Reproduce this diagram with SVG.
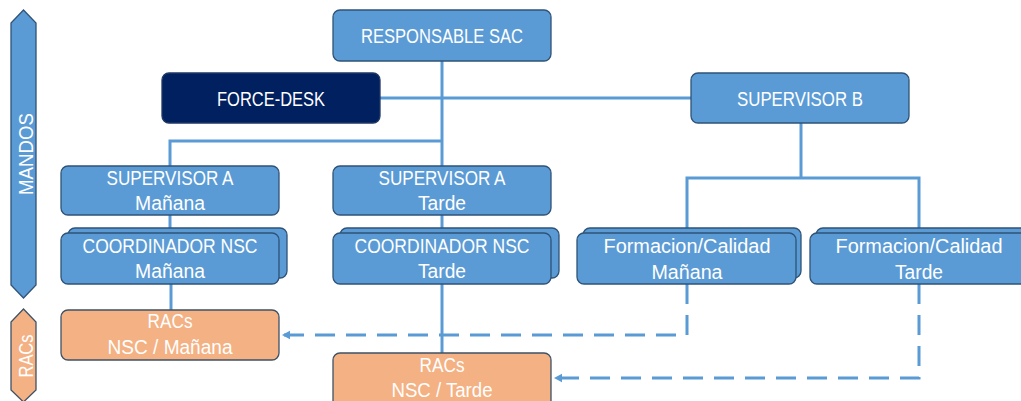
<svg xmlns="http://www.w3.org/2000/svg" width="1021" height="401" viewBox="0 0 1021 401">
<style>
.box{fill:#5B9BD5;stroke:#2F5377;stroke-width:1.3}
.dark{fill:#002060;stroke:#1F3763;stroke-width:1.3}
.rac{fill:#F4B183;stroke:#3E5266;stroke-width:1.3}
.t{font-family:"Liberation Sans",Arial,sans-serif;font-size:20px;fill:#FFFFFF;text-anchor:middle}
.ln{fill:none;stroke:#5B9BD5;stroke-width:3}
.dash{fill:none;stroke:#5B9BD5;stroke-width:3;stroke-dasharray:20 11}
</style>
<defs>
<marker id="ah" markerWidth="10" markerHeight="10" refX="8" refY="5" orient="auto" markerUnits="userSpaceOnUse">
<path d="M0,0.8 L8,5 L0,9.2 Z" fill="#5B9BD5"/>
</marker>
</defs>
<rect width="1021" height="401" fill="#FFFFFF"/>
<g id="connectors">
<path class="ln" d="M442 61 V166"/>
<path class="ln" d="M380 98 H691"/>
<path class="ln" d="M442 141 H170 V166"/>
<path class="ln" d="M170 215 V233"/>
<path class="ln" d="M171 284 V310"/>
<path class="ln" d="M442 215 V233"/>
<path class="ln" d="M442 284 V353"/>
<path class="ln" d="M801 123 V178"/>
<path class="ln" d="M687 233 V178 H919 V233"/>
<path class="dash" d="M687 284 V335 H282" marker-end="url(#ah)"/>
<path class="dash" d="M919 284 V378 H554" marker-end="url(#ah)"/>
</g>
<g id="mandos">
<polygon class="box" points="23.5,10 36,23 36,285 23.5,298 11,285 11,23"/>
<text class="t" font-size="21" textLength="82" lengthAdjust="spacingAndGlyphs" transform="translate(33,154) rotate(-90)">MANDOS</text>
</g>
<g id="racs-label">
<polygon class="rac" points="23.5,309 36,322 36,390 23.5,402 11,390 11,322"/>
<text class="t" font-size="21" textLength="43" lengthAdjust="spacingAndGlyphs" transform="translate(33,356) rotate(-90)">RACs</text>
</g>
<g id="responsable-sac">
<rect class="box" x="333" y="10" width="218" height="51" rx="7"/>
<text class="t" x="442" y="43" textLength="162" lengthAdjust="spacingAndGlyphs">RESPONSABLE SAC</text>
</g>
<g id="force-desk">
<rect class="dark" x="162" y="73" width="218" height="50" rx="7"/>
<text class="t" x="271" y="106" textLength="108" lengthAdjust="spacingAndGlyphs">FORCE-DESK</text>
</g>
<g id="supervisor-b">
<rect class="box" x="691" y="73" width="218" height="50" rx="7"/>
<text class="t" x="800" y="106" textLength="126" lengthAdjust="spacingAndGlyphs">SUPERVISOR B</text>
</g>
<g id="supervisor-a-manana">
<rect class="box" x="61" y="166" width="218" height="49" rx="7"/>
<text class="t" x="170" y="185" textLength="127" lengthAdjust="spacingAndGlyphs">SUPERVISOR A</text>
<text class="t" x="170" y="210" textLength="70" lengthAdjust="spacingAndGlyphs">Mañana</text>
</g>
<g id="supervisor-a-tarde">
<rect class="box" x="333" y="166" width="218" height="49" rx="7"/>
<text class="t" x="442" y="185" textLength="127" lengthAdjust="spacingAndGlyphs">SUPERVISOR A</text>
<text class="t" x="442" y="210" textLength="48" lengthAdjust="spacingAndGlyphs">Tarde</text>
</g>
<g id="coordinador-manana">
<rect class="box" x="68" y="228" width="219" height="50" rx="7"/>
<rect class="box" x="61" y="233" width="218" height="51" rx="7"/>
<text class="t" x="170" y="253" textLength="175" lengthAdjust="spacingAndGlyphs">COORDINADOR NSC</text>
<text class="t" x="170" y="278" textLength="70" lengthAdjust="spacingAndGlyphs">Mañana</text>
</g>
<g id="coordinador-tarde">
<rect class="box" x="340" y="228" width="219" height="50" rx="7"/>
<rect class="box" x="333" y="233" width="218" height="51" rx="7"/>
<text class="t" x="442" y="253" textLength="175" lengthAdjust="spacingAndGlyphs">COORDINADOR NSC</text>
<text class="t" x="442" y="278" textLength="48" lengthAdjust="spacingAndGlyphs">Tarde</text>
</g>
<g id="formacion-manana">
<rect class="box" x="583" y="228" width="218" height="50" rx="7"/>
<rect class="box" x="577" y="233" width="219" height="51" rx="7"/>
<text class="t" x="687" y="253" textLength="167" lengthAdjust="spacingAndGlyphs">Formacion/Calidad</text>
<text class="t" x="687" y="279" textLength="71" lengthAdjust="spacingAndGlyphs">Mañana</text>
</g>
<g id="formacion-tarde">
<rect class="box" x="816" y="228" width="218" height="50" rx="7"/>
<rect class="box" x="810" y="233" width="219" height="51" rx="7"/>
<text class="t" x="919" y="253" textLength="167" lengthAdjust="spacingAndGlyphs">Formacion/Calidad</text>
<text class="t" x="919" y="279" textLength="48" lengthAdjust="spacingAndGlyphs">Tarde</text>
</g>
<g id="racs-manana">
<rect class="rac" x="61" y="310" width="218" height="50" rx="7"/>
<text class="t" x="170" y="328" textLength="45" lengthAdjust="spacingAndGlyphs">RACs</text>
<text class="t" x="170" y="354" textLength="125" lengthAdjust="spacingAndGlyphs">NSC / Mañana</text>
</g>
<g id="racs-tarde">
<rect class="rac" x="333" y="353" width="218" height="55" rx="7"/>
<text class="t" x="442" y="372" textLength="45" lengthAdjust="spacingAndGlyphs">RACs</text>
<text class="t" x="442" y="397" textLength="101" lengthAdjust="spacingAndGlyphs">NSC / Tarde</text>
</g>
</svg>
